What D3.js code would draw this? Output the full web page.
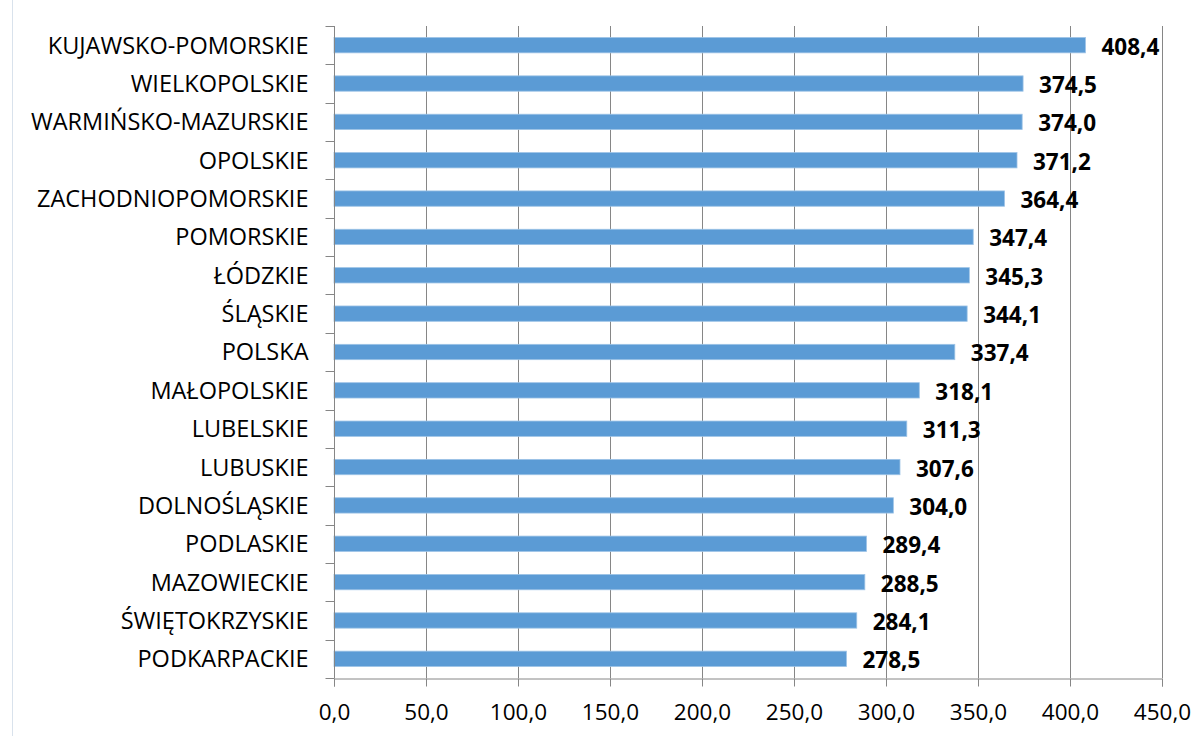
<!DOCTYPE html>
<html>
<head>
<meta charset="utf-8">
<script src="https://cdn.jsdelivr.net/npm/d3@7"></script>
<style>
  body { margin: 0; background: #fff; }
  text { font-family: "Open Sans", "Noto Sans", sans-serif; fill: #000; }
</style>
</head>
<body>
<div id="chart"></div>
<script>
// dane z wykresu (od góry do dołu)
const regions = [
  "KUJAWSKO-POMORSKIE", "WIELKOPOLSKIE", "WARMIŃSKO-MAZURSKIE", "OPOLSKIE",
  "ZACHODNIOPOMORSKIE", "POMORSKIE", "ŁÓDZKIE", "ŚLĄSKIE", "POLSKA",
  "MAŁOPOLSKIE", "LUBELSKIE", "LUBUSKIE", "DOLNOŚLĄSKIE", "PODLASKIE",
  "MAZOWIECKIE", "ŚWIĘTOKRZYSKIE", "PODKARPACKIE"
];
const values = [
  408.4, 374.5, 374.0, 371.2, 364.4, 347.4, 345.3, 344.1, 337.4,
  318.1, 311.3, 307.6, 304.0, 289.4, 288.5, 284.1, 278.5
];
const xTicks = [0, 50, 100, 150, 200, 250, 300, 350, 400, 450];

const width = 1195;
const height = 736;
const margin = {top: 26, right: 33, bottom: 58, left: 334};

const fmt = d => d.toFixed(1).replace(".", ",");

const data = regions.map((r, i) => ({name: r, value: values[i]}));

const svg = d3.select("#chart").append("svg")
  .attr("width", width)
  .attr("height", height);

// ramka wykresu (widoczna tylko lewa krawędź)
svg.append("line")
  .attr("x1", 12.5).attr("x2", 12.5)
  .attr("y1", 0).attr("y2", height)
  .attr("stroke", "#D9E2EC")
  .attr("stroke-width", 1);

const x = d3.scaleLinear()
  .domain([0, 450])
  .range([margin.left, width - margin.right]);

const y = d3.scaleBand()
  .domain(regions)
  .range([margin.top, height - margin.bottom])
  .paddingInner(0.6)
  .paddingOuter(0.3);

const step = y.step();

// linie siatki
svg.append("g")
  .selectAll("line")
  .data(xTicks.slice(1))
  .join("line")
    .attr("x1", d => Math.round(x(d)) + 0.5)
    .attr("x2", d => Math.round(x(d)) + 0.5)
    .attr("y1", margin.top)
    .attr("y2", height - margin.bottom)
    .attr("stroke", "#868686")
    .attr("stroke-width", 1);

// słupki
svg.append("g")
  .selectAll("rect")
  .data(data)
  .join("rect")
    .attr("x", x(0))
    .attr("y", d => y(d.name))
    .attr("width", d => x(d.value) - x(0))
    .attr("height", y.bandwidth())
    .attr("fill", "#5B9BD5")
    .attr("stroke", "#9DC3E6")
    .attr("stroke-width", 0.8);

// etykiety wartości
svg.append("g")
  .selectAll("text")
  .data(data)
  .join("text")
    .attr("x", d => x(d.value) + 16)
    .attr("y", d => y(d.name) + y.bandwidth() / 2)
    .attr("dy", "0.42em")
    .attr("font-size", 22.5)
    .attr("font-weight", "bold")
    .text(d => fmt(d.value));

// oś Y
const yAxis = svg.append("g")
  .attr("transform", `translate(${Math.round(x(0)) + 0.5},0)`);

yAxis.append("line")
  .attr("y1", margin.top).attr("y2", height - margin.bottom)
  .attr("stroke", "#868686");

yAxis.selectAll("line.tick")
  .data(d3.range(regions.length + 1))
  .join("line")
    .attr("class", "tick")
    .attr("x1", -9).attr("x2", 0)
    .attr("y1", i => Math.round(margin.top + i * step) + 0.5)
    .attr("y2", i => Math.round(margin.top + i * step) + 0.5)
    .attr("stroke", "#868686");

yAxis.selectAll("text")
  .data(regions)
  .join("text")
    .attr("x", -26)
    .attr("y", d => y(d) + y.bandwidth() / 2)
    .attr("dy", "0.36em")
    .attr("text-anchor", "end")
    .attr("font-size", 23.5)
    .text(d => d);

// oś X
const xAxis = svg.append("g")
  .attr("transform", `translate(0,${height - margin.bottom + 0.5})`)
  .call(d3.axisBottom(x).tickValues(xTicks).tickSize(8).tickPadding(18).tickFormat(fmt));

xAxis.select(".domain").attr("stroke", "#868686");
xAxis.selectAll(".tick line").attr("stroke", "#868686");
xAxis.selectAll(".tick text")
  .attr("font-size", 22.5)
  .attr("fill", "#000")
  .style("font-family", "'Open Sans', 'Noto Sans', sans-serif");
</script>
</body>
</html>
